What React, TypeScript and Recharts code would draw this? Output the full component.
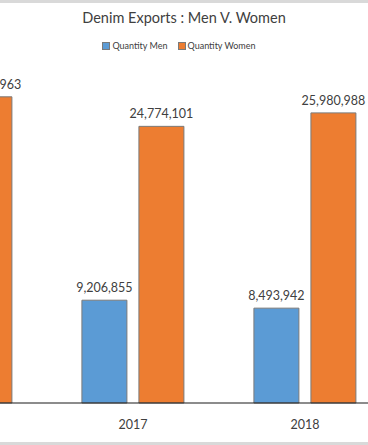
import { Bar, BarChart, LabelList, XAxis, YAxis } from "recharts";

const C = {
  men: "#5b9bd5",
  women: "#ed7d31",
  outline: "#7a7a7a",
  text: "#404040",
  axis: "#1a1a1a",
  frame: "#d9d9d9",
};

const FONT = "Lato, 'Open Sans', sans-serif";

// 2016 is only partly in view (cropped on the left)
const years = ["2016", "2017", "2018"];
const quantityMen = [9850000, 9206855, 8493942];
const quantityWomen = [27418963, 24774101, 25980988];

const data = years.map((y, i) => ({ year: y, men: quantityMen[i], women: quantityWomen[i] }));

const fmt = (v: unknown) => Number(v).toLocaleString("en-US");

function LegendBox() {
  const item = (color: string, label: string) => (
    <span style={{ display: "inline-flex", alignItems: "center", marginRight: 10 }}>
      <span
        style={{
          width: 6,
          height: 6,
          background: color,
          border: `1px solid ${C.outline}`,
          marginRight: 2,
          display: "inline-block",
        }}
      />
      {label}
    </span>
  );
  return (
    <div style={{ textAlign: "center", fontSize: 9, color: C.text, fontFamily: FONT }}>
      {item(C.men, "Quantity Men")}
      {item(C.women, "Quantity Women")}
    </div>
  );
}

export default function App() {
  return (
    <div
      style={{
        position: "fixed",
        left: 0,
        top: 0,
        width: 368,
        height: 445,
        overflow: "hidden",
        background: "#fff",
        borderTop: `3px solid ${C.frame}`,
        borderBottom: `3px solid ${C.frame}`,
        boxSizing: "border-box",
      }}
    >
      <div
        style={{
          position: "absolute",
          top: 6,
          left: 0,
          width: 368,
          textAlign: "center",
          fontFamily: FONT,
          fontSize: 14.5,
          color: C.text,
        }}
      >
        Denim Exports : Men V. Women
      </div>
      <div style={{ position: "absolute", top: 37, left: 0, width: 368 }}>
        <LegendBox />
      </div>
      <div style={{ position: "absolute", left: -125, top: -3 }}>
        <BarChart
          width={516}
          height={445}
          data={data}
          margin={{ top: 68, right: 0, bottom: 12, left: 0 }}
          barCategoryGap="20.3%"
          barGap={12}
        >
          <XAxis
            dataKey="year"
            axisLine={{ stroke: C.axis, strokeWidth: 1.2 }}
            tickLine={false}
            tick={{ fill: C.text, fontSize: 12.5, fontFamily: FONT }}
            dy={9}
          />
          <YAxis hide domain={[0, 30000000]} />
          <Bar dataKey="men" name="Quantity Men" fill={C.men} stroke={C.outline} strokeWidth={1} isAnimationActive={false}>
            <LabelList
              dataKey="men"
              position="top"
              offset={8}
              formatter={fmt}
              style={{ fill: C.text, fontSize: 12.5, fontFamily: FONT }}
            />
          </Bar>
          <Bar dataKey="women" name="Quantity Women" fill={C.women} stroke={C.outline} strokeWidth={1} isAnimationActive={false}>
            <LabelList
              dataKey="women"
              position="top"
              offset={8}
              formatter={fmt}
              style={{ fill: C.text, fontSize: 12.5, fontFamily: FONT }}
            />
          </Bar>
        </BarChart>
      </div>
    </div>
  );
}
